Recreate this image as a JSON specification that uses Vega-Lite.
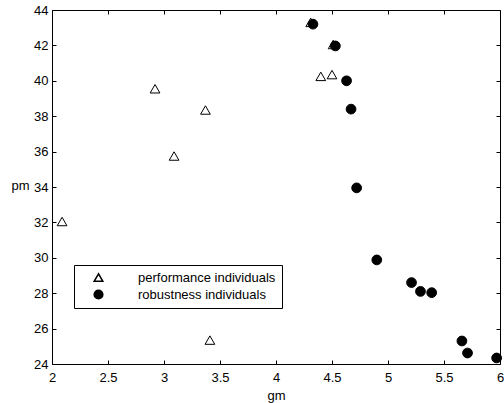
{
  "$schema": "https://vega.github.io/schema/vega-lite/v6.json",
  "width": 448,
  "height": 354,
  "autosize": "none",
  "padding": {"left": 52, "top": 10, "right": 4, "bottom": 39},
  "config": {
    "font": "Liberation Sans",
    "view": {"stroke": "black", "strokeWidth": 1},
    "axis": {"grid": false, "domain": false, "tickColor": "black", "tickSize": -4, "labelColor": "black", "labelFontSize": 13, "titleFontSize": 13, "titleFontWeight": "normal", "titleColor": "black", "labelFont": "Liberation Sans", "titleFont": "Liberation Sans"},
    "legend": {"title": null, "orient": "none", "legendX": 22, "legendY": 255, "strokeColor": "black", "fillColor": "white", "padding": 6, "rowPadding": 2, "labelFontSize": 13, "labelColor": "black", "labelOffset": 33, "symbolOffset": 12, "symbolSize": 75}
  },
  "data": {"values": [
    {"gm": 2.09, "pm": 32.05, "type": "performance individuals"},
    {"gm": 2.92, "pm": 39.55, "type": "performance individuals"},
    {"gm": 3.09, "pm": 35.75, "type": "performance individuals"},
    {"gm": 3.37, "pm": 38.35, "type": "performance individuals"},
    {"gm": 3.41, "pm": 25.35, "type": "performance individuals"},
    {"gm": 4.31, "pm": 43.3, "type": "performance individuals"},
    {"gm": 4.40, "pm": 40.25, "type": "performance individuals"},
    {"gm": 4.50, "pm": 40.35, "type": "performance individuals"},
    {"gm": 4.51, "pm": 42.05, "type": "performance individuals"},
    {"gm": 4.33, "pm": 43.2, "type": "robustness individuals"},
    {"gm": 4.53, "pm": 41.97, "type": "robustness individuals"},
    {"gm": 4.63, "pm": 40.0, "type": "robustness individuals"},
    {"gm": 4.67, "pm": 38.4, "type": "robustness individuals"},
    {"gm": 4.72, "pm": 33.95, "type": "robustness individuals"},
    {"gm": 4.90, "pm": 29.88, "type": "robustness individuals"},
    {"gm": 5.21, "pm": 28.6, "type": "robustness individuals"},
    {"gm": 5.29, "pm": 28.1, "type": "robustness individuals"},
    {"gm": 5.39, "pm": 28.03, "type": "robustness individuals"},
    {"gm": 5.66, "pm": 25.3, "type": "robustness individuals"},
    {"gm": 5.71, "pm": 24.62, "type": "robustness individuals"},
    {"gm": 5.97, "pm": 24.34, "type": "robustness individuals"}
  ]},
  "resolve": {"axis": {"x": "independent", "y": "independent"}},
  "layer": [
    {
      "mark": {"type": "point", "filled": true, "stroke": "black", "strokeWidth": 1, "opacity": 1, "size": 95},
      "encoding": {
        "x": {"field": "gm", "type": "quantitative", "scale": {"domain": [2, 6], "nice": false, "zero": false},
              "axis": {"values": [2, 2.5, 3, 3.5, 4, 4.5, 5, 5.5, 6], "format": ".1~f", "labelPadding": 11, "labelFlush": false, "title": "gm", "titleY": 31, "titleBaseline": "middle"}},
        "y": {"field": "pm", "type": "quantitative", "scale": {"domain": [24, 44], "nice": false, "zero": false},
              "axis": {"values": [24, 26, 28, 30, 32, 34, 36, 38, 40, 42, 44], "labelPadding": 8, "labelFlush": false, "title": "pm", "titleAngle": 0, "titleX": -32, "titleY": 175, "titleAlign": "center", "titleBaseline": "middle"}},
        "shape": {"field": "type", "type": "nominal", "scale": {"domain": ["performance individuals", "robustness individuals"], "range": ["triangle-up", "circle"]}},
        "color": {"field": "type", "type": "nominal", "scale": {"domain": ["performance individuals", "robustness individuals"], "range": ["#fefefe", "black"]}}
      }
    },
    {
      "mark": {"type": "point", "size": 0, "strokeWidth": 0},
      "encoding": {
        "x": {"field": "gm", "type": "quantitative", "axis": {"orient": "top", "values": [2, 2.5, 3, 3.5, 4, 4.5, 5, 5.5, 6], "labels": false, "title": null}},
        "y": {"field": "pm", "type": "quantitative", "axis": {"orient": "right", "values": [24, 26, 28, 30, 32, 34, 36, 38, 40, 42, 44], "labels": false, "title": null}}
      }
    }
  ]
}
